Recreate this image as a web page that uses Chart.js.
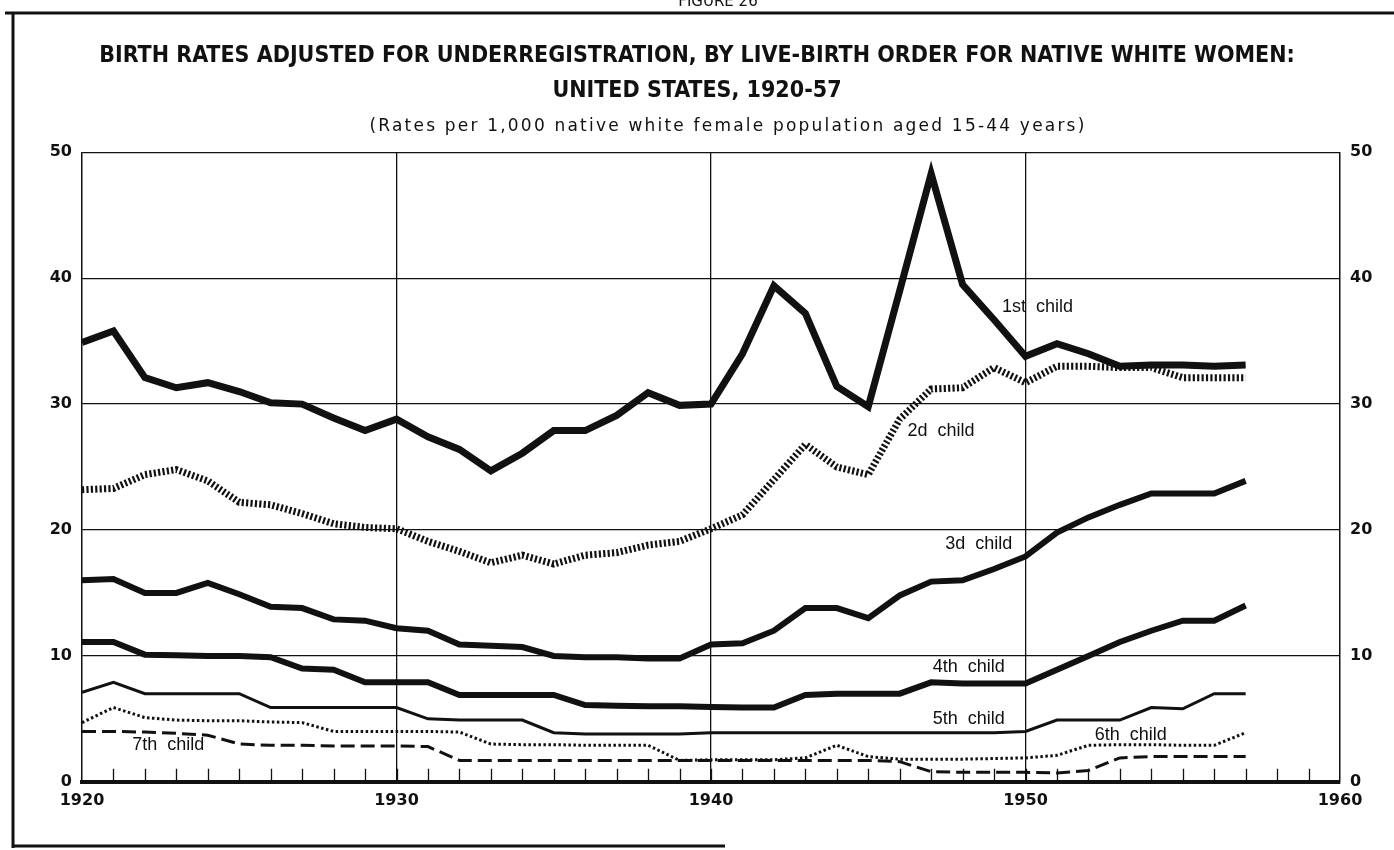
<!DOCTYPE html>
<html>
<head>
<meta charset="utf-8">
<script src="https://cdn.jsdelivr.net/npm/chart.js@4.4.1/dist/chart.umd.min.js"></script>
<style>
  html, body { margin: 0; padding: 0; background: #fff; }
  #wrap { position: relative; width: 1394px; height: 850px; }
</style>
</head>
<body>
<div id="wrap"><canvas id="c"></canvas></div>
<script>
// ---- data (rates per 1,000 native white women aged 15-44) ----
const years = [1920,1921,1922,1923,1924,1925,1926,1927,1928,1929,
               1930,1931,1932,1933,1934,1935,1936,1937,1938,1939,
               1940,1941,1942,1943,1944,1945,1946,1947,1948,1949,
               1950,1951,1952,1953,1954,1955,1956,1957];
const firstChild  = [34.9,35.8,32.1,31.3,31.7,31.0,30.1,30.0,28.9,27.9,
                     28.8,27.4,26.4,24.7,26.1,27.9,27.9,29.1,30.9,29.9,
                     30.0,34.0,39.4,37.2,31.4,29.8,39.0,48.3,39.5,36.7,
                     33.8,34.8,34.0,33.0,33.1,33.1,33.0,33.1];
const secondChild = [23.2,23.3,24.4,24.8,23.9,22.2,22.0,21.3,20.5,20.2,
                     20.1,19.1,18.3,17.4,18.0,17.3,18.0,18.2,18.8,19.1,
                     20.1,21.2,24.0,26.8,25.0,24.4,28.8,31.2,31.3,32.9,
                     31.7,33.0,33.0,32.9,32.9,32.1,32.1,32.1];
const thirdChild  = [16.0,16.1,15.0,15.0,15.8,14.9,13.9,13.8,12.9,12.8,
                     12.2,12.0,10.9,10.8,10.7,10.0,9.9,9.9,9.8,9.8,
                     10.9,11.0,12.0,13.8,13.8,13.0,14.8,15.9,16.0,16.9,
                     17.9,19.8,21.0,22.0,22.9,22.9,22.9,23.9];
const fourthChild = [11.1,11.1,10.1,10.05,10.0,10.0,9.9,9.0,8.9,7.9,
                     7.9,7.9,6.9,6.9,6.9,6.9,6.1,6.05,6.0,6.0,
                     5.95,5.9,5.9,6.9,7.0,7.0,7.0,7.9,7.8,7.8,
                     7.8,8.9,10.0,11.1,12.0,12.8,12.8,14.0];
const fifthChild  = [7.1,7.9,7.0,7.0,7.0,7.0,5.9,5.9,5.9,5.9,
                     5.9,5.0,4.9,4.9,4.9,3.9,3.8,3.8,3.8,3.8,
                     3.9,3.9,3.9,3.9,3.9,3.9,3.9,3.9,3.9,3.9,
                     4.0,4.9,4.9,4.9,5.9,5.8,7.0,7.0];
const sixthChild  = [4.7,5.9,5.1,4.9,4.85,4.85,4.75,4.7,4.0,4.0,
                     4.0,4.0,3.95,3.0,2.95,2.95,2.9,2.9,2.9,1.7,
                     1.75,1.75,1.75,1.9,2.9,2.0,1.8,1.8,1.8,1.85,
                     1.9,2.1,2.9,2.95,2.95,2.9,2.9,3.9];
const seventhChild= [4.0,4.0,3.95,3.85,3.7,3.0,2.9,2.9,2.85,2.85,
                     2.85,2.8,1.7,1.7,1.7,1.7,1.7,1.7,1.7,1.7,
                     1.7,1.7,1.7,1.7,1.7,1.7,1.6,0.8,0.75,0.75,
                     0.75,0.7,0.9,1.9,2.0,2.0,2.0,2.0];
const seriesNames = ['1st  child','2d  child','3d  child','4th  child','5th  child','6th  child','7th  child'];
const yTicks = [0,10,20,30,40,50];
const xTicks = [1920,1930,1940,1950,1960];
const titleLines = ['BIRTH RATES ADJUSTED FOR UNDERREGISTRATION, BY LIVE-BIRTH ORDER FOR NATIVE WHITE WOMEN:',
                    'UNITED STATES, 1920-57'];
const subtitleText = '(Rates per 1,000 native white female population aged 15-44 years)';
const figureText = 'FIGURE 26';

// ---- label placement (data coordinates of left edge / middle) ----
const labelPos = [
  {x:1949.25, y:37.7},
  {x:1946.25, y:27.9},
  {x:1947.45, y:18.9},
  {x:1947.05, y:9.1},
  {x:1947.05, y:5.0},
  {x:1952.2,  y:3.7},
  {x:1921.6,  y:2.9}
];

const toPts = arr => arr.map((v,i) => ({x: years[i], y: v}));
const INK = '#111';

const styles = [
  {w:7,   dash:[]},
  {w:7,   dash:[2.2,2.2]},
  {w:6,   dash:[]},
  {w:6,   dash:[]},
  {w:3,   dash:[]},
  {w:3,   dash:[2.5,2.5]},
  {w:3,   dash:[14,6]}
];
const allSeries = [firstChild, secondChild, thirdChild, fourthChild, fifthChild, sixthChild, seventhChild];

const datasets = allSeries.map((s, i) => ({
  label: seriesNames[i],
  data: toPts(s),
  borderColor: INK,
  backgroundColor: INK,
  borderWidth: styles[i].w,
  borderDash: styles[i].dash,
  borderCapStyle: 'butt',
  borderJoinStyle: 'miter',
  pointRadius: 0,
  tension: 0,
  fill: false
}));

// frame, clipped figure caption and spaced subtitle
const framePlugin = {
  id: 'frame',
  beforeDraw(chart) {
    const ctx = chart.ctx;
    ctx.save();
    ctx.fillStyle = '#fff';
    ctx.fillRect(0, 0, chart.width, chart.height);
    ctx.strokeStyle = INK;
    ctx.lineWidth = 3;
    ctx.beginPath();
    ctx.moveTo(5, 13); ctx.lineTo(1394, 13);
    ctx.moveTo(13, 13); ctx.lineTo(13, 848);
    ctx.moveTo(13, 846); ctx.lineTo(725, 846);
    ctx.stroke();
    ctx.fillStyle = INK;
    ctx.font = '15px "DejaVu Sans"';
    ctx.textAlign = 'center';
    ctx.textBaseline = 'alphabetic';
    ctx.fillText(figureText, 718, 6);
    // subtitle
    ctx.font = '17px "DejaVu Sans"';
    ctx.letterSpacing = '2.2px';
    ctx.textAlign = 'left';
    ctx.textBaseline = 'middle';
    const w = ctx.measureText(subtitleText).width;
    ctx.fillText(subtitleText, 728 - w / 2, 127);
    ctx.restore();
  }
};

// yearly tick marks pointing up from the base line
const yearTicks = {
  id: 'yearTicks',
  beforeDatasetsDraw(chart) {
    const {ctx, scales: {x, y}} = chart;
    ctx.save();
    ctx.strokeStyle = INK;
    ctx.lineWidth = 1.3;
    ctx.beginPath();
    for (let yr = 1921; yr < 1960; yr++) {
      const px = Math.round(x.getPixelForValue(yr)) + 0.5;
      ctx.moveTo(px, y.getPixelForValue(0));
      ctx.lineTo(px, y.getPixelForValue(0) - 13);
    }
    ctx.stroke();
    ctx.restore();
  }
};

// series labels inside the plot
const seriesLabels = {
  id: 'seriesLabels',
  afterDatasetsDraw(chart) {
    const {ctx, scales: {x, y}} = chart;
    ctx.save();
    ctx.fillStyle = INK;
    ctx.font = '18px "Liberation Sans", Arial, sans-serif';
    ctx.textAlign = 'left';
    ctx.textBaseline = 'middle';
    labelPos.forEach((p, i) => {
      ctx.fillText(seriesNames[i], x.getPixelForValue(p.x), y.getPixelForValue(p.y));
    });
    ctx.restore();
  }
};

const tickFont = { family: '"DejaVu Sans"', size: 16, weight: 'bold' };

new Chart(document.getElementById('c'), {
  type: 'line',
  data: { datasets },
  plugins: [framePlugin, yearTicks, seriesLabels],
  options: {
    responsive: true,
    maintainAspectRatio: false,
    animation: false,
    layout: { padding: { left: 20, right: 20, top: 0, bottom: 31 } },
    plugins: {
      legend: { display: false },
      tooltip: { enabled: false },
      title: {
        display: true,
        text: titleLines,
        color: INK,
        font: { family: '"DejaVu Sans Condensed", "DejaVu Sans"', weight: 'bold', size: 23, lineHeight: 1.55 },
        padding: { top: 38, bottom: 43 }
      }
    },
    scales: {
      x: {
        type: 'linear',
        min: 1920, max: 1960,
        afterBuildTicks: s => { s.ticks = xTicks.map(v => ({value: v})); },
        ticks: {
          color: INK,
          font: tickFont,
          padding: 9,
          maxRotation: 0,
          callback: v => String(v)
        },
        grid: { color: INK, lineWidth: 1.3, drawTicks: false },
        border: { display: true, color: INK, width: 4 }
      },
      y: {
        position: 'left',
        min: 0, max: 50,
        afterBuildTicks: s => { s.ticks = yTicks.map(v => ({value: v})); },
        afterFit: s => { s.width = 62; },
        ticks: {
          color: INK,
          font: tickFont,
          padding: 10,
          callback: v => String(v)
        },
        grid: { color: INK, lineWidth: 1.3, drawTicks: false },
        border: { display: true, color: INK, width: 1.3 }
      },
      y2: {
        position: 'right',
        min: 0, max: 50,
        afterBuildTicks: s => { s.ticks = yTicks.map(v => ({value: v})); },
        afterFit: s => { s.width = 34; },
        ticks: {
          color: INK,
          font: tickFont,
          padding: 10,
          callback: v => String(v)
        },
        grid: { drawOnChartArea: false, drawTicks: false },
        border: { display: true, color: INK, width: 1.3 }
      }
    }
  }
});
</script>
</body>
</html>
